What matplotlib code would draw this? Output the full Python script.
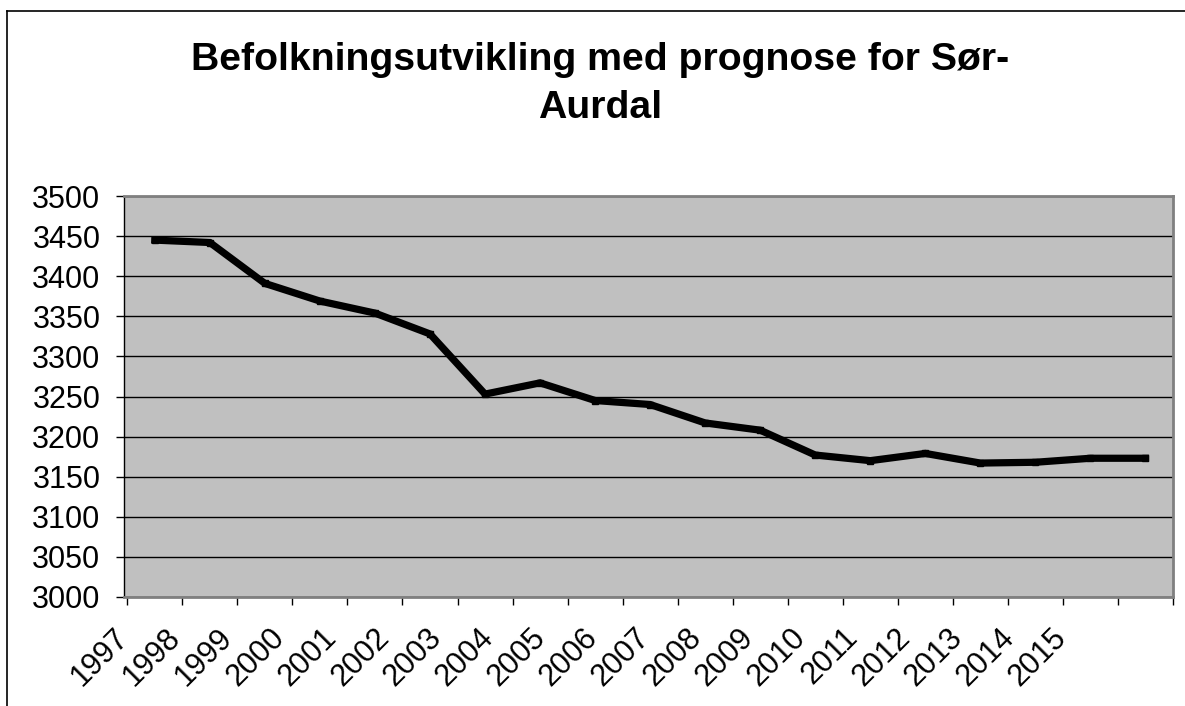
import numpy as np
import matplotlib
matplotlib.use("Agg")
import matplotlib.pyplot as plt
from matplotlib.lines import Line2D

years = [str(y) for y in range(1997, 2016)]
population = [3445, 3442, 3391, 3369, 3354, 3328, 3253, 3267, 3245, 3240,
              3217, 3208, 3177, 3170, 3179, 3167, 3168, 3173, 3173]
y_ticks = list(range(3000, 3501, 50))
title = "Befolkningsutvikling med prognose for Sør-\nAurdal"

plt.rcParams["font.family"] = ["Liberation Sans", "DejaVu Sans"]

W, H = 1185, 706
fig = plt.figure(figsize=(W / 100, H / 100), dpi=100, facecolor="white")

# outer chart frame (only left and top edges visible in the crop)
fig.add_artist(Line2D([7 / W, 7 / W], [0, 1 - 11 / H], color="black", lw=1.2,
                      transform=fig.transFigure))
fig.add_artist(Line2D([7 / W, 1], [1 - 11 / H, 1 - 11 / H], color="black", lw=1.2,
                      transform=fig.transFigure))

ax = fig.add_axes([124 / W, 1 - 597 / H, (1173 - 124) / W, (597 - 196) / H])
ax.set_facecolor("#c0c0c0")

x = np.arange(len(years))
ax.plot(x, population, color="black", lw=5.2, marker="s", ms=5,
        mfc="black", mec="black", solid_joinstyle="miter", zorder=3)

ax.set_xlim(-0.5, len(years) - 0.5)
ax.set_ylim(3000, 3500)
ax.set_yticks(y_ticks)
ax.yaxis.grid(True, color="black", lw=1.0)
ax.set_axisbelow(True)
ax.tick_params(axis="y", length=6, width=1, pad=11, labelsize=22, color="black")

# category boundary ticks, labels offset like the Excel rendering
ax.set_xticks(np.arange(len(years) + 1) - 0.5)
ax.set_xticklabels([])
ax.tick_params(axis="x", which="major", length=6, width=1, color="black")
label_pos = np.linspace(-0.56, 16.48, len(years))
ax.set_xticks(label_pos, minor=True)
ax.set_xticklabels(years, minor=True, rotation=45, ha="right",
                   rotation_mode="anchor", va="center", fontsize=22)
ax.tick_params(axis="x", which="minor", length=0, pad=26)

for side in ["top", "right", "bottom"]:
    ax.spines[side].set_color("#808080")
    ax.spines[side].set_linewidth(2)
ax.spines["left"].set_color("black")
ax.spines["left"].set_linewidth(1)

fig.text(600 / W, 1 - 84 / H, title, ha="center", va="center",
         fontsize=28.3, fontweight="bold", linespacing=1.42)

fig.savefig("out.png", dpi=100)
